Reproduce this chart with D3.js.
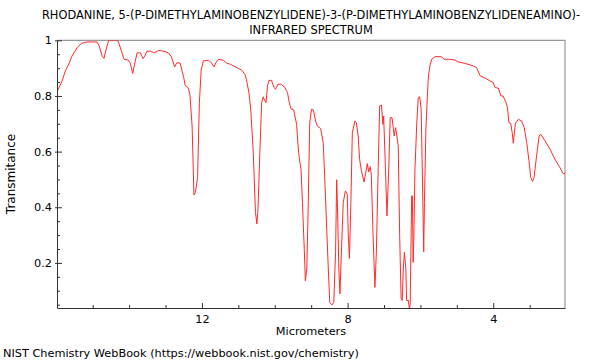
<!DOCTYPE html>
<html><head><meta charset="utf-8">
<script src="https://cdn.jsdelivr.net/npm/d3@7"></script>
<style>body{margin:0;background:#fff;} svg{display:block;font-family:"DejaVu Sans",sans-serif;}</style>
</head><body><svg id="c" width="600" height="360"></svg>
<script>
const titleLines = ["RHODANINE, 5-(P-DIMETHYLAMINOBENZYLIDENE)-3-(P-DIMETHYLAMINOBENZYLIDENEAMINO)-", "INFRARED SPECTRUM"];
const xLabel = "Micrometers";
const yLabel = "Transmitance";
const footer = "NIST Chemistry WebBook (https://webbook.nist.gov/chemistry)";
const xTickValues = [12, 8, 4];
const xMinorTickValues = [15, 14, 13, 11, 10, 9, 7, 6, 5, 3];
const yTickValues = [0.2, 0.4, 0.6, 0.8, 1];
const yTickLabels = ["0.2", "0.4", "0.6", "0.8", "1"];
const yMinorTickValues = [0.05, 0.1, 0.15, 0.25, 0.3, 0.35, 0.45, 0.5, 0.55, 0.65, 0.7, 0.75, 0.85, 0.9, 0.95];

const micrometers = [15.95,15.84,15.75,15.64,15.57,15.43,15.31,15.16,14.88,14.82,14.74,14.69,14.63,14.56,14.38,14.30,14.21,14.14,14.03,13.97,13.90,13.85,13.78,13.69,13.62,13.57,13.51,13.42,13.31,13.19,13.05,12.92,12.84,12.75,12.69,12.60,12.50,12.46,12.38,12.33,12.27,12.22,12.18,12.12,12.07,12.02,11.96,11.82,11.74,11.67,11.62,11.54,11.41,11.31,11.22,
11.09,10.91,10.82,10.78,10.71,10.66,10.59,10.53,10.49,10.46,10.41,10.36,10.32,10.27,10.24,10.20,10.16,10.09,10.02,9.98,9.91,9.82,9.72,9.65,9.61,9.56,9.48,9.40,9.36,9.33,9.28,9.24,9.19,9.16,9.12,9.08,9.04,8.99,8.94,8.88,8.83,8.74,8.67,8.63,8.58,8.53,8.49,8.43,8.38,8.33,8.30,8.28,8.24,8.21,8.17,8.12,8.06,8.01,7.98,7.95,7.91,7.87,7.80,7.76,7.71,7.67,7.62,7.55,7.50,7.46,7.42,7.38,7.35,7.30,7.25,7.21,7.16,7.12,7.07,7.03,7.01,6.96,6.92,6.87,6.83,6.78,6.72,6.68,6.61,6.57,6.53,6.50,6.47,6.44,6.40,6.38,6.33,6.30,6.28,6.24,6.22,6.20,6.18,6.15,6.10,6.06,6.02,5.98,5.95,5.91,5.89,5.85,5.81,5.78,5.74,5.69,5.60,5.42,5.35,5.23,5.05,4.96,4.78,4.55,4.46,4.36,4.25,4.09,4.00,3.95,3.86,3.79,3.73,3.65,3.61,3.57,3.52,3.48,3.45,3.42,3.39,3.31,3.22,3.15,3.08,3.02,2.97,2.92,2.88,2.81,2.74,2.70,2.58,2.44,2.31,2.17,2.08,2.03];

const transmittance = [0.822,0.854,0.890,0.919,0.943,0.973,0.989,0.994,0.994,0.979,0.943,0.935,0.968,1.0,1.0,0.997,0.961,0.932,0.929,0.919,0.881,0.914,0.955,0.955,0.934,0.943,0.961,0.961,0.955,0.963,0.961,0.955,0.941,0.904,0.919,0.919,0.866,0.838,0.830,0.806,0.692,0.444,0.453,0.507,0.776,0.896,0.926,0.928,0.919,0.904,0.919,0.932,0.928,0.917,0.914,
0.905,0.893,0.878,0.860,0.812,0.752,0.597,0.381,0.340,0.394,0.597,0.776,0.797,0.782,0.776,0.836,0.856,0.856,0.830,0.824,0.842,0.842,0.830,0.812,0.782,0.754,0.750,0.698,0.621,0.579,0.537,0.417,0.250,0.136,0.178,0.417,0.704,0.752,0.750,0.710,0.692,0.683,0.632,0.513,0.345,0.178,0.058,0.049,0.058,0.238,0.499,0.417,0.178,0.089,0.238,0.417,0.459,0.447,0.298,0.216,0.417,0.668,0.710,0.704,0.656,0.573,0.531,0.491,0.525,0.557,0.527,0.546,0.519,0.298,0.112,0.238,0.537,0.764,0.767,0.698,0.728,0.537,0.369,0.537,0.722,0.722,0.656,0.686,0.621,0.298,0.071,0.065,0.178,0.238,0.178,0.065,0.065,0.030,0.058,0.441,0.441,0.202,0.298,0.537,0.704,0.794,0.797,0.752,0.537,0.240,0.417,0.681,0.800,0.872,0.908,0.932,0.941,0.941,0.932,0.932,0.929,0.922,0.917,0.908,0.902,0.872,0.866,0.854,0.848,0.830,0.828,0.800,0.800,0.776,0.758,0.704,0.702,0.668,0.630,0.668,0.702,0.716,0.710,0.686,0.632,0.567,0.507,0.493,0.507,0.585,0.656,0.663,0.639,0.609,0.573,0.543,0.521,0.521];

const svg = d3.select("#c");
const L = 57, R = 565, T = 40.3, B = 308;
const x = d3.scaleLinear().domain([15.98, 2.03]).range([L, R]);
const y = d3.scaleLinear().domain([0.038, 1]).range([B, T]);

svg.append("rect").attr("width", 600).attr("height", 360).attr("fill", "#fff");

// title
svg.append("text").attr("x", 311).attr("y", 19).attr("text-anchor", "middle")
  .attr("font-size", 11.4).attr("fill", "#000").text(titleLines[0]);
svg.append("text").attr("x", 311).attr("y", 34).attr("text-anchor", "middle")
  .attr("font-size", 11.4).attr("fill", "#000").text(titleLines[1]);

// frame top/right
svg.append("path").attr("d", `M${L},${T}H${R}V${B}`).attr("fill", "none")
  .attr("stroke", "#999").attr("stroke-width", 1.2);

// clip
svg.append("clipPath").attr("id", "clip").append("rect")
  .attr("x", L).attr("y", T).attr("width", R - L).attr("height", B - T);

const data = d3.zip(micrometers, transmittance);
const line = d3.line().x(d => x(d[0])).y(d => y(d[1]));
svg.append("path").datum(data).attr("clip-path", "url(#clip)")
  .attr("d", line).attr("fill", "none").attr("stroke", "#ff2a2a").attr("stroke-width", 1);

// x axis
const gx = svg.append("g").attr("transform", `translate(0,${B})`)
  .call(d3.axisBottom(x).tickValues(xTickValues).tickFormat(d3.format("d"))
    .tickSizeInner(-5).tickSizeOuter(0).tickPadding(7));
gx.append("g").call(d3.axisBottom(x).tickValues(xMinorTickValues).tickFormat("")
    .tickSizeInner(-3).tickSizeOuter(0)).select(".domain").remove();
gx.selectAll("text").attr("font-size", 11.3).attr("font-family", "DejaVu Sans").attr("fill", "#000");

// y axis
const gy = svg.append("g").attr("transform", `translate(${L},0)`)
  .call(d3.axisLeft(y).tickValues(yTickValues).tickFormat((d, i) => yTickLabels[i])
    .tickSizeInner(-5).tickSizeOuter(0).tickPadding(5));
gy.append("g").call(d3.axisLeft(y).tickValues(yTickValues).tickFormat("")
    .tickSizeInner(2).tickSizeOuter(0)).select(".domain").remove();
gy.append("g").call(d3.axisLeft(y).tickValues(yMinorTickValues).tickFormat("")
    .tickSizeInner(-3).tickSizeOuter(0)).select(".domain").remove();
gy.selectAll("text").attr("font-size", 11.3).attr("font-family", "DejaVu Sans").attr("fill", "#000");
svg.selectAll(".domain").attr("stroke", "#333");
svg.selectAll(".tick line").attr("stroke", "#333");

// labels
svg.append("text").attr("x", 311).attr("y", 335).attr("text-anchor", "middle")
  .attr("font-size", 11.3).attr("fill", "#000").text(xLabel);
svg.append("text").attr("transform", "translate(15,174) rotate(-90)").attr("text-anchor", "middle")
  .attr("font-size", 12).attr("fill", "#000").text(yLabel);
svg.append("text").attr("x", 3).attr("y", 357)
  .attr("font-size", 11.3).attr("fill", "#000").text(footer);
</script></body></html>
